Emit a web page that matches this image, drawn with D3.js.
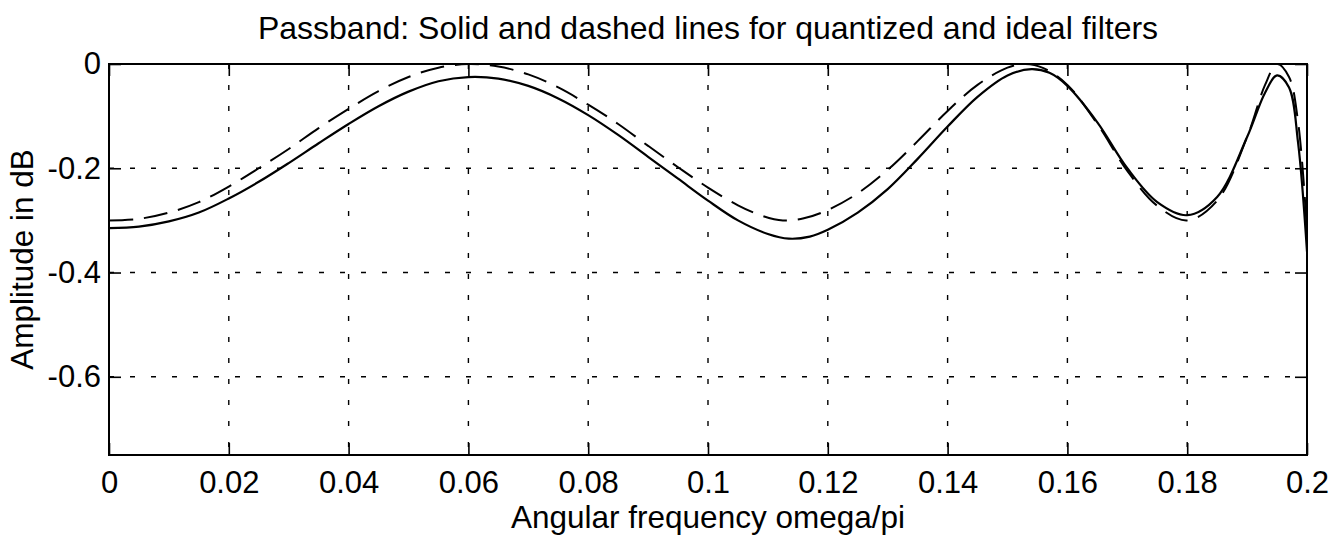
<!DOCTYPE html>
<html>
<head>
<meta charset="utf-8">
<script src="https://cdn.jsdelivr.net/npm/d3@7"></script>
<style>
  html, body { margin: 0; padding: 0; background: #fff; }
  svg { display: block; }
  text { font-family: "Liberation Sans", Arial, Helvetica, sans-serif; fill: #000; }
</style>
</head>
<body>
<svg id="chart" width="1335" height="539"></svg>
<script>
// Frequency axis (omega/pi) and amplitude (dB) samples
const freqIdeal = [0, 0.005, 0.01, 0.015, 0.02, 0.025, 0.03, 0.035, 0.04, 0.045, 0.05, 0.055, 0.06,
  0.065, 0.07, 0.075, 0.08, 0.085, 0.09, 0.095, 0.1, 0.105, 0.109, 0.1125, 0.116, 0.12, 0.125, 0.13,
  0.135, 0.14, 0.145, 0.15, 0.153, 0.156, 0.16, 0.165, 0.17, 0.175, 0.18, 0.185, 0.19, 0.193,
  0.195, 0.197, 0.1985, 0.2];
const ampIdeal = [-0.300, -0.297, -0.285, -0.265, -0.235, -0.200, -0.163, -0.123, -0.086, -0.052,
  -0.025, -0.007, 0.000, -0.005, -0.020, -0.045, -0.078, -0.115, -0.157, -0.198, -0.237, -0.271,
  -0.291, -0.300, -0.296, -0.280, -0.248, -0.203, -0.148, -0.090, -0.040, -0.007, 0.000, -0.008,
  -0.040, -0.115, -0.205, -0.272, -0.300, -0.262, -0.140, -0.040, 0.000, -0.025, -0.110, -0.320];

const freqQuant = [0, 0.005, 0.01, 0.015, 0.02, 0.025, 0.03, 0.035, 0.04, 0.045, 0.05, 0.055, 0.06,
  0.065, 0.07, 0.075, 0.08, 0.085, 0.09, 0.095, 0.1, 0.105, 0.11, 0.1135, 0.117, 0.12, 0.125, 0.13,
  0.135, 0.14, 0.145, 0.15, 0.154, 0.157, 0.16, 0.165, 0.17, 0.175, 0.18, 0.185, 0.19, 0.193,
  0.195, 0.197, 0.1985, 0.2];
const ampQuant = [-0.315, -0.312, -0.302, -0.285, -0.258, -0.226, -0.190, -0.152, -0.115, -0.081,
  -0.053, -0.033, -0.025, -0.028, -0.042, -0.066, -0.098, -0.136, -0.178, -0.220, -0.262, -0.300,
  -0.326, -0.335, -0.331, -0.318, -0.285, -0.240, -0.182, -0.120, -0.063, -0.022, -0.010, -0.017,
  -0.042, -0.112, -0.200, -0.265, -0.290, -0.255, -0.140, -0.055, -0.022, -0.045, -0.150, -0.360];

const xTicks = [0, 0.02, 0.04, 0.06, 0.08, 0.1, 0.12, 0.14, 0.16, 0.18, 0.2];
const xTickLabels = ["0", "0.02", "0.04", "0.06", "0.08", "0.1", "0.12", "0.14", "0.16", "0.18", "0.2"];
const yTicks = [0, -0.2, -0.4, -0.6];
const yTickLabels = ["0", "-0.2", "-0.4", "-0.6"];

const titleText = "Passband: Solid and dashed lines for quantized and ideal filters";
const xLabelText = "Angular frequency omega/pi";
const yLabelText = "Amplitude in dB";

const margin = { left: 109, right: 28, top: 64, bottom: 84 };
const W = 1335, H = 539;
const iw = W - margin.left - margin.right;
const ih = H - margin.top - margin.bottom;

const svg = d3.select("#chart");
const g = svg.append("g").attr("transform", `translate(${margin.left},${margin.top})`);

const x = d3.scaleLinear().domain([0, 0.2]).range([0, iw]);
const y = d3.scaleLinear().domain([-0.75, 0]).range([ih, 0]);

const tickFont = 31;
const labelFont = 31.5;
const titleFont = 32;
const tickLen = 12;

// dotted grid
g.append("g").attr("class", "grid-x")
  .selectAll("line").data(xTicks.slice(1, -1)).join("line")
  .attr("x1", d => x(d)).attr("x2", d => x(d))
  .attr("y1", 0).attr("y2", ih)
  .attr("stroke", "#000").attr("stroke-width", 1.4).attr("stroke-dasharray", "5,16");
g.append("g").attr("class", "grid-y")
  .selectAll("line").data(yTicks.slice(1)).join("line")
  .attr("x1", 0).attr("x2", iw)
  .attr("y1", d => y(d)).attr("y2", d => y(d))
  .attr("stroke", "#000").attr("stroke-width", 1.4).attr("stroke-dasharray", "5,16");

// axes with inward ticks on all four sides
const xBottom = d3.axisBottom(x).tickValues(xTicks).tickSizeInner(-tickLen).tickSizeOuter(0)
  .tickPadding(16).tickFormat((d, i) => xTickLabels[i]);
const xTop = d3.axisTop(x).tickValues(xTicks).tickSizeInner(-tickLen).tickSizeOuter(0).tickFormat("");
const yLeft = d3.axisLeft(y).tickValues(yTicks).tickSizeInner(-tickLen).tickSizeOuter(0)
  .tickPadding(8).tickFormat((d, i) => yTickLabels[i]);
const yRight = d3.axisRight(y).tickValues(yTicks).tickSizeInner(-tickLen).tickSizeOuter(0).tickFormat("");

function styleAxis(sel) {
  sel.select(".domain").remove();
  sel.selectAll(".tick line").attr("stroke", "#000").attr("stroke-width", 1.6);
  sel.selectAll(".tick text").attr("font-size", tickFont).attr("fill", "#000")
    .attr("font-family", "Liberation Sans, Arial, sans-serif");
}
g.append("g").attr("transform", `translate(0,${ih})`).call(xBottom).call(styleAxis);
g.append("g").call(xTop).call(styleAxis);
g.append("g").call(yLeft).call(styleAxis);
g.append("g").attr("transform", `translate(${iw},0)`).call(yRight).call(styleAxis);

// curves
g.append("clipPath").attr("id", "plot-clip").append("rect")
  .attr("x", 0).attr("y", -2).attr("width", iw).attr("height", ih + 2);

const line = d3.line().x(d => x(d[0])).y(d => y(d[1])).curve(d3.curveCatmullRom.alpha(0.5));

const curves = g.append("g").attr("clip-path", "url(#plot-clip)");
curves.append("path")
  .datum(freqIdeal.map((f, i) => [f, ampIdeal[i]]))
  .attr("d", line).attr("fill", "none").attr("stroke", "#000")
  .attr("stroke-width", 2).attr("stroke-dasharray", "24,11");
curves.append("path")
  .datum(freqQuant.map((f, i) => [f, ampQuant[i]]))
  .attr("d", line).attr("fill", "none").attr("stroke", "#000")
  .attr("stroke-width", 2.2);

// frame
g.append("rect").attr("x", 0).attr("y", 0).attr("width", iw).attr("height", ih)
  .attr("fill", "none").attr("stroke", "#000").attr("stroke-width", 2);

// labels
svg.append("text").attr("x", margin.left + iw / 2).attr("y", 39)
  .attr("text-anchor", "middle").attr("font-size", titleFont).text(titleText);
svg.append("text").attr("x", margin.left + iw / 2).attr("y", 528)
  .attr("text-anchor", "middle").attr("font-size", labelFont).text(xLabelText);
svg.append("text")
  .attr("transform", `translate(33,${margin.top + ih / 2}) rotate(-90)`)
  .attr("text-anchor", "middle").attr("font-size", labelFont).text(yLabelText);
</script>
</body>
</html>
